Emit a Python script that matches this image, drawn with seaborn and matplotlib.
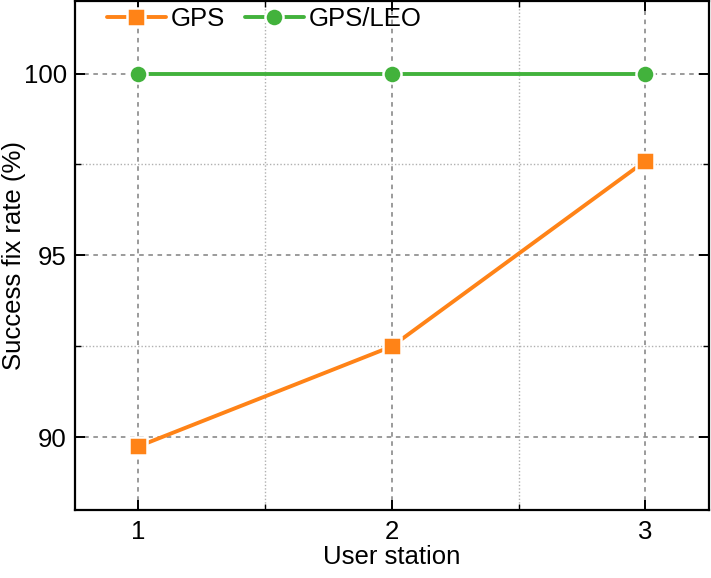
import numpy as np
import pandas as pd
import matplotlib
matplotlib.use("Agg")
import matplotlib.pyplot as plt
import seaborn as sns
from matplotlib.ticker import MultipleLocator

# data
stations = [1, 2, 3]
gps_rate = [89.75, 92.5, 97.6]
gps_leo_rate = [100.0, 100.0, 100.0]

df = pd.DataFrame({
    "station": stations * 2,
    "rate": gps_rate + gps_leo_rate,
    "system": ["GPS"] * 3 + ["GPS/LEO"] * 3,
})

sns.set_style("white")
plt.rcParams["font.family"] = ["Liberation Sans", "DejaVu Sans"]
plt.rcParams["xtick.direction"] = "in"
plt.rcParams["ytick.direction"] = "in"
plt.rcParams["text.color"] = "black"
plt.rcParams["axes.labelcolor"] = "black"

fig = plt.figure(figsize=(7.11, 5.78), dpi=100)
ax = fig.add_axes([0.1055, 0.1176, 0.8915, 0.8810])

palette = {"GPS": "#FF8317", "GPS/LEO": "#42B23C"}
sns.lineplot(data=df, x="station", y="rate", hue="system", style="system",
             palette=palette, markers={"GPS": "s", "GPS/LEO": "o"},
             dashes=False, linewidth=2.8, markersize=13,
             markeredgecolor="white", markeredgewidth=1.8, ax=ax, zorder=3)

ax.set_xlim(0.75, 3.25)
ax.set_ylim(88, 102)
ax.xaxis.set_major_locator(MultipleLocator(1))
ax.xaxis.set_minor_locator(MultipleLocator(0.5))
ax.yaxis.set_major_locator(MultipleLocator(5))
ax.yaxis.set_minor_locator(MultipleLocator(2.5))

ax.grid(which="major", color="#808080", linestyle=(0, (3, 3)), linewidth=1.1)
ax.grid(which="minor", color="#b0b0b0", linestyle=(0, (1, 1.5)), linewidth=1.0)

ax.tick_params(which="major", length=7, width=1.4, labelsize=18.5, top=True, right=True,
               bottom=True, left=True, colors="black")
ax.tick_params(which="minor", length=4, width=1.0, top=True, right=True,
               bottom=True, left=True, colors="black")
ax.tick_params(axis="x", pad=7)
ax.tick_params(axis="y", pad=6)
for s in ax.spines.values():
    s.set_linewidth(1.6)
    s.set_color("black")

ax.set_xlabel("User station", fontsize=18.5, color="black")
ax.set_ylabel("Success fix rate (%)", fontsize=18.5, color="black")
ax.xaxis.set_label_coords(0.5, -0.068)
ax.yaxis.set_label_coords(-0.077, 0.5)

leg = ax.legend(title=None, loc="upper left", ncol=2, frameon=False, fontsize=18.5,
                handlelength=2.3, handletextpad=0.2, columnspacing=0.75,
                bbox_to_anchor=(0.022, 1.023), borderaxespad=0.3)
for t in leg.get_texts():
    t.set_color("black")

fig.savefig("out.png", dpi=100)
